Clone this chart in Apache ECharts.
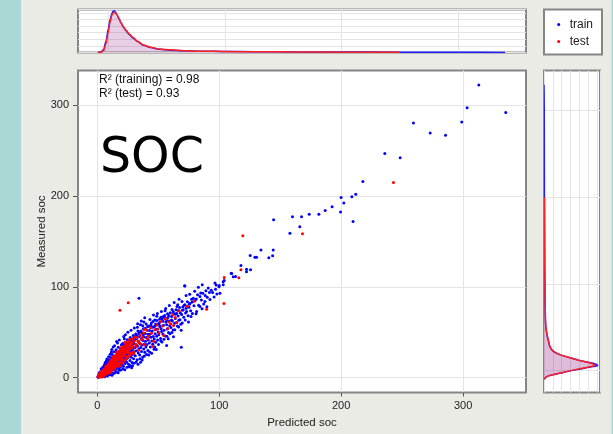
<!DOCTYPE html>
<html><head><meta charset="utf-8">
<script src="https://cdn.jsdelivr.net/npm/echarts@6/dist/echarts.min.js"></script>
<style>html,body{margin:0;padding:0;background:#ebebe6;}#c{width:613px;height:434px;}</style>
</head><body><div id="c"></div>
<script>
// ---- scatter data: [predicted, measured] ----
const trainPoints = [
[0.5,0.8],[1,0.3],[1.2,2],[1.8,1.1],[2,3.5],[2.5,0.9],[2.8,2.4],[3,5],[3.3,1.6],[3.6,3.2],[4,0.8],[4.2,6.5],[4.5,2.7],[4.8,4.4],[5,8.5],[1.5,4.8],[3.8,7.6],[0.8,1.6],[2.2,6],[4.4,1.5],
[5.3,3],[5.5,6.8],[5.8,10.5],[6,4.6],[6.2,2.3],[6.5,8.4],[6.8,12.6],[7,5.9],[7.2,3.8],[7.5,9.6],[7.8,15.2],[8,7.2],[8.2,4.5],[8.5,11.4],[8.8,17.5],[9,8.8],[9.2,6],[9.5,13.2],[9.8,10.1],[10,5.2],[6.4,14.8],[8.6,2.8],[5.6,12.2],[7.4,18.1],[9.6,19.6],
[10.3,12.5],[10.5,16.8],[10.8,8.1],[11,22],[11.3,14.4],[11.5,6.5],[11.8,10.7],[12,18.6],[12.3,25.3],[12.5,13],[12.8,8.9],[13,16],[13.3,21.4],[13.5,11.2],[13.8,28.5],[14,14.6],[14.3,7.9],[14.5,19.3],[14.8,24],[15,12.1],[15.3,17.2],[15.5,30.6],[15.8,9.8],[16,21.8],[16.3,15.1],[16.5,26.2],[16.8,12.4],[17,19.1],[17.3,33.4],[17.5,16.6],[17.8,10.5],[18,23.5],[18.3,28.9],[18.5,14.1],[18.8,20.2],[19,12],[19.3,25.8],[19.5,17.5],[19.8,36.2],[20,22.3],[15.9,39.7],[12.6,4.6],[17.9,7.9],[11.6,28.1],
[20.3,14.6],[20.5,27.4],[20.8,19.8],[21,31.7],[21.3,24.2],[21.5,12.5],[21.8,17.6],[22,35.5],[22.3,22],[22.5,28.8],[22.8,15.4],[23,26],[23.3,38.4],[23.5,20.1],[23.8,31.2],[24,17.2],[24.3,24.7],[24.5,41.6],[24.8,28.4],[25,21.8],[25.3,34.4],[25.5,14.9],[25.8,26.7],[26,37.5],[26.3,23.1],[26.5,30.3],[26.8,18.8],[27,44.2],[27.3,27.5],[27.5,33.7],[27.8,22.4],[28,39.3],[28.3,29.9],[28.5,16.5],[28.8,35.6],[29,25.4],[29.3,31.8],[29.5,46.4],[29.8,20.6],[30,37.9],[22.2,42.8],[26.1,11.8],[28.9,12.9],
[30.3,28.4],[30.6,41.5],[30.9,33.2],[31.2,23.9],[31.5,48.1],[31.8,36.3],[32.1,29.6],[32.4,42.9],[32.7,19.5],[33,34.8],[33.3,51.2],[33.6,27.1],[33.9,39.6],[34.2,87.5],[34.2,31.7],[34.5,45.3],[34.8,24.8],[35.1,37.2],[35.4,58.1],[35.7,33],[36,42.4],[36.3,28.7],[36.6,49.5],[36.9,35.9],[37.2,22.5],[37.5,40.8],[37.8,53.9],[38.1,31.4],[38.4,44.7],[38.7,37.1],[39,27.8],[39.3,48.6],[39.6,39.9],[39.9,33.6],[35.5,16.8],[38.2,61.3],[32.9,55.4],
[40.3,44.2],[40.7,36.5],[41.1,52.1],[41.5,29.8],[41.9,41.3],[42.3,56.8],[42.7,38.1],[43.1,47.7],[43.5,33.6],[43.9,44.5],[44.3,60.2],[44.7,40.2],[45.1,51.4],[45.5,36.7],[45.9,45.2],[46.3,55.6],[46.7,42.5],[47.1,63.4],[47.5,48.3],[47.9,38.9],[48.3,53.1],[48.7,45.6],[49.1,58.7],[49.5,41.4],[49.9,50.2],[42.1,24.9],[46.6,31.2],[48.8,67.5],
[50.4,47.3],[50.9,60.5],[51.4,56.2],[51.9,43.1],[52.4,53.8],[52.8,50.7],[53.3,64.8],[53.8,47.9],[54.3,57.6],[54.8,52.2],[55.3,68.4],[55.8,45.8],[56.3,61.3],[56.9,58.1],[56.9,35.3],[57.4,53.6],[57.9,66.2],[58.4,49.7],[58.9,62.4],[59.4,57],[59.9,71.5],[53.1,39.2],[55.6,73.6],[58.2,42.7],
[60.4,55.1],[61,67.3],[61.6,62.2],[62.2,52.4],[62.8,70.3],[63.4,59.8],[64,65.1],[64.6,74.7],[65.1,71],[65.1,60.6],[65.7,56.9],[66.3,67.8],[66.9,63.2],[67.5,77.2],[67.8,63.6],[68.4,58.7],[68.9,33.5],[69.2,69.4],[69.8,74.1],[62.5,44.9],[66,80.3],[68.8,52],
[70.5,74.6],[70.9,66.5],[71.4,79.7],[71.9,80.2],[72.4,71.1],[73.3,72.8],[73.9,83.6],[74.5,68.2],[75.2,77.4],[76,82],[76.6,73.5],[77.3,86.2],[78,70.6],[78.7,87.5],[79.3,79.1],[71.6,101.1],[74.8,61.3],
[80.2,84.8],[81.5,72.8],[82.3,91.2],[83.1,79.6],[84.2,89.3],[84.2,78.3],[85.4,85.4],[86.6,93],[87.3,81.2],[88.3,83.8],[89.1,95.8],[90.2,88.6],[91,98.6],[92.4,86.1],[93.5,96.2],[94.6,93.7],[95.8,88.9],[97,97.4],[98.1,92.1],[100.6,93],[100,101.4],[103.3,102.2],[96.5,104.3],[89.9,78.1],
[3.2,9.8],[4.6,11.5],[5.9,14.1],[6.7,16.9],[7.9,20.3],[9.3,22.8],[10.6,25.6],[11.9,30.9],[13.1,33.7],[14.2,35.1],[16.6,38.2],[18.1,41.3],[19.1,31.2],[20.9,37.4],[21.7,45.2],[23.1,47.3],[24.2,36.2],[25.1,49.8],[26.7,41.9],[27.7,52.1],[29.1,42.8],[30.4,54.6],[31.6,45.7],[33.1,59.2],[34.6,50.3],[36.1,62.4],[37.3,57.1],[38.9,65.8],[40.1,58.9],[41.6,47.8],[43.2,64.1],[44.9,55.4],[46.1,68.9],[47.8,59.1],[49.3,70.6],[51.1,64.2],[52.6,72.8],[54.1,67.3],[56.1,76.2],[57.6,70.4],[59.1,79.3],[61.3,75.1],[63.1,82.6],[65.4,78.4],[67.1,86.3],[69.5,83.9],[72.8,90.4],[75.8,91.7],[79.9,95.1],[82.9,99.6],[86.1,102.3],
[6.1,0.9],[8.3,1.7],[10.2,3.1],[12.1,2.4],[13.9,4.8],[15.6,6.1],[17.1,5.4],[19.4,8.2],[21.1,9.6],[22.6,8.7],[24.4,11.3],[26.9,13.4],[28.2,10.8],[30.1,15.8],[31.9,17.1],[33.4,14.6],[35,20.8],[36.8,19.3],[38.6,23.7],[40.5,25.4],[43,28.1],[44.6,26.7],[47.2,33.8],[48.4,30.9],[50.2,36.4],[52.1,40.3],[54.7,42.1],[57.1,45.5],[59.6,48.3],[61.2,49.6],[63.6,52.7],[66.7,55.8],[69.7,60.1],[72.1,63.5],[76.9,67.2],[81,70.3],[85.9,75.8],
[11.1,17.6],[13.7,20.8],[15.1,23.2],[16.9,24.9],[18.7,27.1],[20.6,30.4],[22.1,32.6],[23.7,34.3],[25.6,37.1],[27.1,38.8],[28.7,40.6],[30.8,44.1],[32.3,46.2],[34,48.6],[35.9,51.2],[37.6,47.1],[39.5,54.4],[41.3,56.3],[42.9,51.9],[44.1,57.8],[45.7,61.7],[47.4,56.9],[48.9,62.8],[50.7,58.1],[52.2,66.4],[53.9,62.1],[55.5,65.7],[57.2,62.9],[58.7,68.3],[60.9,63.4],[62.4,72.6],[64.3,69.7],[66.5,73.9],[68.2,71.2],[70.2,78.1],[72.9,76.3],[75.5,80.9],[77.9,83.2],[81.2,86.7],[84.8,93.2],[88.5,90.4],[92,93.8],
[71.9,100.8],[97.5,101.9],[99.8,100],[103.3,105.5],[104.1,107],[110.2,114.7],[111.5,111],[113.4,111.4],[109.9,115.1],[117.8,123.5],[125.7,118.7],[122.4,119.5],[122.4,116.5],[125.4,134.5],[129.3,132.7],[130.6,132.7],[143.8,134.2],[140.7,132],[134.2,140.5],[144.3,140.5],[158,159.2],[144.6,173.9],[160.1,177.2],[166.1,166.2],[167.5,177.2],[173.8,180.1],[181.7,180.1],[186.9,184.1],[192.6,188.2],[209.8,172],[199.5,182.4],[202.2,192.3],[200,198.5],[208.8,199.2],[212,202.2],[217.8,216.1],[248.4,242.2],[235.8,247],[285.6,267.2],[273,269.5],[259.3,280.5],[298.9,281.6],[335,292.2],[303.3,297.4],[312.9,322.4]
];
const testPoints = [
[0.6,0.5],[1.1,1.8],[1.5,0.7],[2,2.6],[2.4,1.3],[2.9,3.7],[3.3,2.1],[3.7,4.8],[4.1,2.9],[4.6,5.9],[5,3.6],[5.4,6.9],[5.8,4.4],[6.2,8.1],[6.6,5.5],[7,9.2],[7.4,6.3],[7.8,10.4],[8.2,7.5],[8.6,11.6],[9,8.6],[9.4,12.7],[9.8,9.8],[3.1,6.2],[5.2,1.9],[7.6,3.9],[8.9,14.5],[1.9,4.1],[6.9,12.3],
[10.2,13.9],[10.6,10.9],[11,15.2],[11.4,12.1],[11.8,16.4],[12.2,13.2],[12.6,17.7],[13,14.4],[13.4,19],[13.8,15.5],[14.2,20.1],[14.6,16.7],[15,21.4],[15.4,17.9],[15.8,22.6],[16.2,19],[16.6,23.9],[17,20.2],[17.4,25],[17.8,21.4],[18.2,26.3],[18.6,22.6],[19,27.5],[19.4,23.7],[19.8,28.8],[11.5,8.4],[14.1,11.2],[16.9,14.9],[18.9,17.3],[12.9,22.8],[15.5,27.9],[18.6,74.3],[19.6,33.1],
[20.3,25],[20.8,29.9],[21.3,26.2],[21.8,31.2],[22.3,27.4],[22.8,32.5],[23.3,28.7],[23.8,33.8],[24.3,29.9],[24.8,35.1],[25.3,31],[25.4,82.4],[25.8,36.3],[26.3,32.3],[26.8,37.6],[27.3,33.5],[27.8,39],[28.3,34.8],[21.2,19.8],[23.9,23.1],[26.5,26.8],[28.9,42.6],[25.4,28.7],[22.7,38.9],
[1.3,3.2],[2.6,4.9],[3.5,0.6],[4.3,7.4],[4.9,1.2],[5.7,9.3],[6.3,2.9],[6.8,7],[7.3,11.8],[8,5.3],[8.4,13.1],[9.1,4.7],[9.7,15.6],[10.1,7.3],[10.4,17.8],[10.9,12.6],[11.2,5.9],[11.7,19.6],[12.1,9.6],[12.5,14.9],[12.8,20.7],[13.2,11.1],[13.6,17.3],[14,23.6],[14.4,9.3],[14.8,19.1],[15.2,13.5],[15.6,25.2],[16,16.4],[16.4,12.1],[16.8,21.5],[17.2,28.3],[17.6,15.8],[18,19.5],[18.4,12.9],[18.8,30.6],[19.2,20.9],[19.6,16.2],[20,31.8],[20.6,22.4],[21,15.9],[21.6,34.6],[22,24.1],[22.5,18.4],[23,29.5],[23.5,36.7],[24.1,20.6],[24.6,27.2],[25,39.8],[25.6,22.9],[26,30.8],[26.6,42.1],[27,24.6],[27.6,31.6],[28.1,27.1],[28.6,38.2],[29.2,33],[30,26.2],[31,44.8],[32,34.1],[33.2,40.2],[35.8,36.8],[37,44.5],[38.5,52.9],[41.2,42.7],[44.5,48.9],[46.1,40.1],[49.8,53.4],[53.5,56.8],[58.9,61.2],[62.6,57.3],
[30.2,40.5],[31.5,36.8],[32.7,44.1],[33.9,30.2],[35.2,46.9],[36.6,41.8],[37.9,49.2],[39.1,36.1],[40.6,52.3],[42,45.5],[43.6,55.1],[45.4,34.2],[47.3,52.6],[48.9,57.8],[50.6,49.1],[52.2,61.9],[54.5,46.3],[55.9,64.7],[57.8,54],[60.3,58.9],[61.9,69.1],[63.8,66.3],[65.1,60.6],[67.2,73.4],[29.6,28.1],[34.4,38.4],
[73.8,78.5],[79.6,84.2],[89.7,75.4],[103.9,81.6],[104.1,110.3],[116.1,109.9],[117.8,118.7],[119.4,156.2],[168.3,158.4],[242.9,215]
];
// ---- marginal densities ----
const topX     = [-9, -6, -4, -2, 0, 1.5, 3, 4, 5, 6, 7.5, 9, 11, 13, 15, 18, 21, 25, 30, 36, 44, 53, 65, 80, 100, 125, 160, 200, 250, 300, 340];
const topTrain = [0, 0.001, 0.005, 0.017, 0.036, 0.05, 0.059, 0.0625, 0.063, 0.0615, 0.057, 0.051, 0.044, 0.038, 0.033, 0.027, 0.022, 0.0165, 0.011, 0.0075, 0.0048, 0.0035, 0.0026, 0.002, 0.0015, 0.0012, 0.0009, 0.0007, 0.0005, 0.0003, 0];
const topTest  = [0, 0.0005, 0.003, 0.013, 0.031, 0.046, 0.056, 0.0595, 0.0605, 0.06, 0.057, 0.052, 0.045, 0.039, 0.034, 0.028, 0.023, 0.017, 0.0115, 0.008, 0.0052, 0.004, 0.0027, 0.002, 0.0015, 0.0011, 0.0008, 0.0005, 0.0002];
const rightY     = [-10, -7, -5, -3, -1, 1, 3, 4.5, 5.8, 7.5, 9.5, 12, 15, 18, 22, 27, 34, 42, 52, 62, 85, 120, 160, 200, 250, 300, 330];
const rightTrain = [0, 0.003, 0.0095, 0.0185, 0.027, 0.037, 0.047, 0.056, 0.0605, 0.058, 0.05, 0.039, 0.0285, 0.0183, 0.0105, 0.0068, 0.005, 0.0032, 0.0019, 0.0015, 0.0011, 0.0008, 0.0006, 0.0005, 0.0004, 0.0003, 0];
const rightTest  = [0, 0.0035, 0.0095, 0.018, 0.026, 0.0355, 0.045, 0.053, 0.0575, 0.0555, 0.049, 0.0385, 0.0285, 0.0185, 0.011, 0.007, 0.0052, 0.0034, 0.002, 0.0016, 0.0012, 0.0009, 0.0007, 0.0005];
// ---- ticks / texts ----
const mainTicks = [0, 100, 200, 300];
const seriesNames = ['train', 'test'];
const r2Lines = ['R\u00b2 (training) = 0.98', 'R\u00b2 (test) = 0.93'];
const bigLabel = 'SOC';
const xName = 'Predicted soc', yName = 'Measured soc';

const FONT = 'Liberation Sans, Arial, sans-serif';
const BORDER = '#858585';
const GRIDC = '#e4e4e4';
const chart = echarts.init(document.getElementById('c'), null, {renderer: 'canvas'});

function densityArea(ys, xs, line, fill) {
  return function (params, api) {
    if (params.dataIndex !== 0) return null;
    const n = xs.length;
    const pts = xs.map((x, i) => api.coord([x, ys[i]]));
    const b0 = api.coord([0, ys[0]]), b1 = api.coord([0, ys[n - 1]]);
    return {type: 'group', children: [
      {type: 'polygon', shape: {points: [b0].concat(pts, [b1]), smooth: 0.25}, style: {fill: fill, stroke: null}},
      {type: 'polyline', shape: {points: pts, smooth: 0.25}, style: {stroke: line, lineWidth: 1.5, fill: null}}
    ]};
  };
}

const option = {
  backgroundColor: '#ebebe6',
  animation: false,
  textStyle: {fontFamily: FONT},
  grid: [
    {left: 78, top: 70.5, width: 448, height: 322, show: true, backgroundColor: '#fff', borderColor: BORDER, borderWidth: 2},
    {left: 78, top: 9.5, width: 448, height: 43, show: true, backgroundColor: '#fff', borderColor: BORDER, borderWidth: 2},
    {left: 544, top: 70.5, width: 56, height: 322, show: true, backgroundColor: '#fff', borderColor: BORDER, borderWidth: 2}
  ],
  xAxis: [
    {type: 'value', gridIndex: 0, min: -15.8, max: 351.6, name: xName, nameLocation: 'middle', nameGap: 24, nameMoveOverlap: false,
     nameTextStyle: {fontSize: 11.5, color: '#222', fontFamily: FONT},
     axisLine: {show: false, onZero: false},
     axisTick: {show: true, length: 4, customValues: mainTicks, lineStyle: {color: '#555'}},
     axisLabel: {customValues: mainTicks, fontSize: 11, color: '#222', margin: 8, fontFamily: FONT},
     splitLine: {show: true, lineStyle: {color: GRIDC, width: 1}}},
    {type: 'value', gridIndex: 1, min: -26, max: 358,
     axisLine: {show: false, onZero: false}, axisTick: {show: false, customValues: mainTicks}, axisLabel: {show: false, customValues: mainTicks},
     splitLine: {show: true, lineStyle: {color: GRIDC}}},
    {type: 'value', gridIndex: 2, min: 0, max: 0.0633, interval: 0.01,
     axisLine: {show: false, onZero: false}, axisTick: {show: false}, axisLabel: {show: false},
     splitLine: {show: true, lineStyle: {color: GRIDC}}}
  ],
  yAxis: [
    {type: 'value', gridIndex: 0, min: -16.5, max: 338.5, name: yName, nameLocation: 'middle', nameGap: 30, nameMoveOverlap: false,
     nameTextStyle: {fontSize: 11.5, color: '#222', fontFamily: FONT},
     axisLine: {show: false, onZero: false},
     axisTick: {show: true, length: 5, customValues: mainTicks, lineStyle: {color: '#555'}},
     axisLabel: {customValues: mainTicks, fontSize: 11, color: '#222', margin: 9, fontFamily: FONT},
     splitLine: {show: true, lineStyle: {color: GRIDC, width: 1}}},
    {type: 'value', gridIndex: 1, min: 0, max: 0.065, interval: 0.01,
     axisLine: {show: false, onZero: false}, axisTick: {show: false}, axisLabel: {show: false},
     splitLine: {show: true, lineStyle: {color: GRIDC}}},
    {type: 'value', gridIndex: 2, min: -25.4, max: 346.4,
     axisLine: {show: false, onZero: false}, axisTick: {show: false, customValues: mainTicks}, axisLabel: {show: false, customValues: mainTicks},
     splitLine: {show: true, lineStyle: {color: GRIDC}}}
  ],
  legend: {
    data: seriesNames, orient: 'vertical', left: 557.2, top: 16, padding: 0, itemGap: 0,
    itemWidth: 12, itemHeight: 3, icon: 'circle',
    textStyle: {fontSize: 12, color: '#222', lineHeight: 17, fontFamily: FONT}
  },
  series: [
    {name: 'train', type: 'scatter', xAxisIndex: 0, yAxisIndex: 0, data: trainPoints, symbol: 'circle', symbolSize: 3,
     itemStyle: {color: '#0000ff', opacity: 1}, z: 3},
    {name: 'test', type: 'scatter', xAxisIndex: 0, yAxisIndex: 0, data: testPoints, symbol: 'circle', symbolSize: 3,
     itemStyle: {color: '#ff0000', opacity: 1}, z: 4},
    {name: 'trainTop', type: 'line', xAxisIndex: 1, yAxisIndex: 1, data: topTrain.map((v, i) => [topX[i], v]),
     showSymbol: false, symbol: 'none', smooth: 0.3, smoothMonotone: 'x',
     lineStyle: {color: '#2020ff', width: 1.5}, areaStyle: {color: 'rgba(0,0,255,0.14)'}, z: 3},
    {name: 'testTop', type: 'line', xAxisIndex: 1, yAxisIndex: 1, data: topTest.map((v, i) => [topX[i], v]),
     showSymbol: false, symbol: 'none', smooth: 0.3, smoothMonotone: 'x',
     lineStyle: {color: '#ff2020', width: 1.5}, areaStyle: {color: 'rgba(255,0,0,0.14)'}, z: 4},
    {name: 'trainRight', type: 'custom', xAxisIndex: 2, yAxisIndex: 2, clip: true,
     data: rightTrain.map((v, i) => [v, rightY[i]]), encode: {x: 0, y: 1},
     renderItem: densityArea(rightY, rightTrain, '#2020ff', 'rgba(0,0,255,0.14)'), z: 3},
    {name: 'testRight', type: 'custom', xAxisIndex: 2, yAxisIndex: 2, clip: true,
     data: rightTest.map((v, i) => [v, rightY[i]]), encode: {x: 0, y: 1},
     renderItem: densityArea(rightY, rightTest, '#ff2020', 'rgba(255,0,0,0.14)'), z: 4}
  ],
  graphic: [
    {type: 'rect', left: 0, top: 0, shape: {width: 21, height: 434}, style: {fill: '#a9d8d5'}, z: 0},
    {type: 'rect', left: 611.5, top: 0, shape: {width: 2, height: 434}, style: {fill: '#a9d8d5'}, z: 0},
    {type: 'rect', left: 543, top: 8.5, shape: {x: 0, y: 0, width: 58, height: 45}, style: {fill: '#fff', stroke: BORDER, lineWidth: 2}, z: -1},
    {type: 'text', left: 99, top: 74, style: {text: r2Lines[0], font: '12px ' + FONT, fill: '#111'}, z: 10},
    {type: 'text', left: 99, top: 87.5, style: {text: r2Lines[1], font: '12px ' + FONT, fill: '#111'}, z: 10},
    {type: 'text', left: 100, top: 135, style: {text: bigLabel, font: '49px DejaVu Sans', fill: '#000'}, z: 10}
  ]
};
chart.setOption(option);
</script>
</body></html>
